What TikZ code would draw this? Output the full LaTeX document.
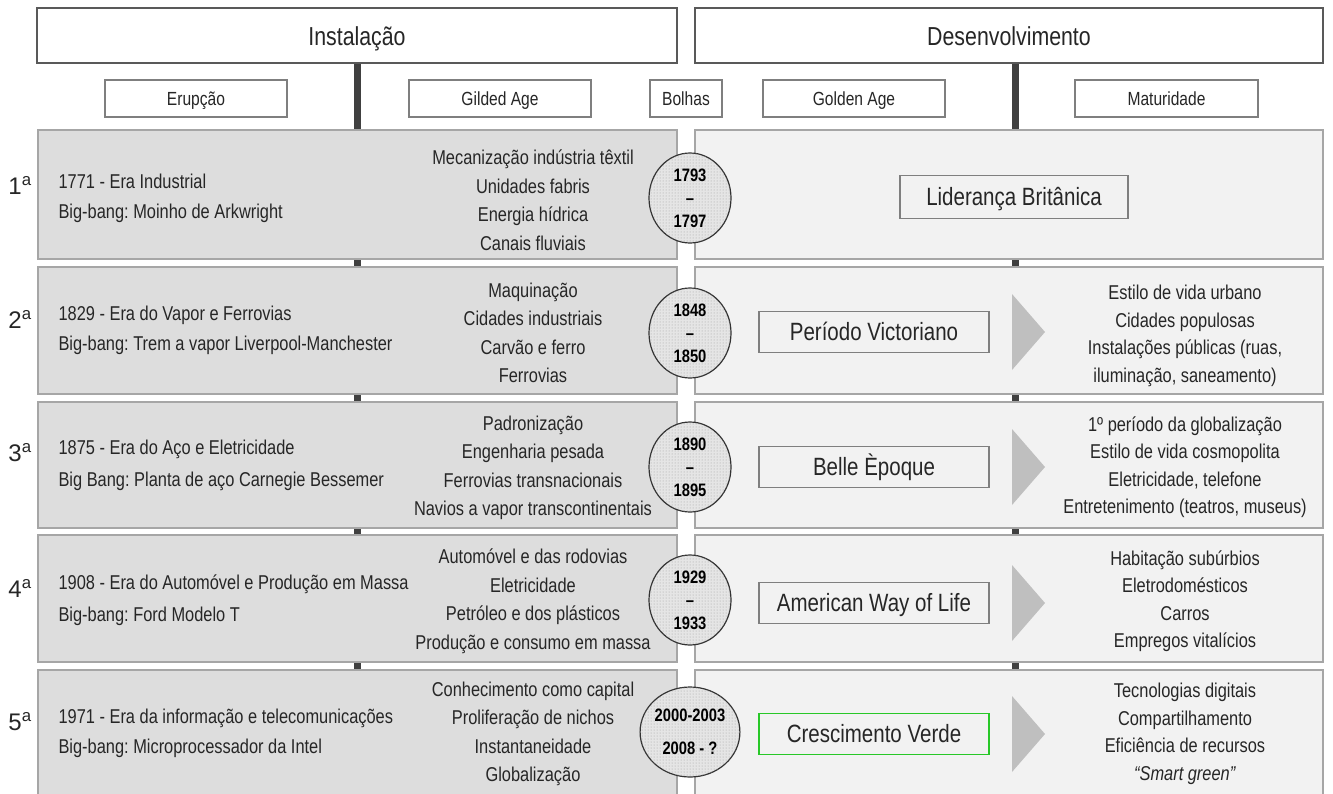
\documentclass[tikz,border=0pt]{standalone}
\usepackage{fontspec}
\setmainfont{Liberation Sans}[FakeStretch=0.82]
\newfontfamily\widefont{Liberation Sans}
\usetikzlibrary{patterns,shapes.geometric}
\definecolor{txt}{RGB}{38,38,38}
\definecolor{hdline}{RGB}{89,89,89}
\definecolor{subline}{RGB}{127,127,127}
\definecolor{panelline}{RGB}{166,166,166}
\definecolor{panelL}{RGB}{221,221,221}
\definecolor{panelR}{RGB}{242,242,242}
\definecolor{arrowgray}{RGB}{191,191,191}
\definecolor{barcol}{RGB}{64,64,64}
\definecolor{verde}{RGB}{40,200,40}

\begin{document}
\frenchspacing
\begin{tikzpicture}[x=1pt,y=-1pt,every node/.style={text=txt},
  hdbox/.style={draw=hdline,line width=1.5pt,fill=white,minimum height=55pt,text height=19.5pt,text depth=0pt,font=\fontsize{26}{26}\selectfont},
  subbox/.style={draw=subline,line width=1.2pt,fill=white,minimum height=37pt,text height=13.6pt,text depth=0pt,font=\fontsize{19}{19}\selectfont},
  lpanel/.style={draw=panelline,line width=1.5pt,fill=panelL},
  rpanel/.style={draw=panelline,line width=1.5pt,fill=panelR},
  rowlabel/.style={font=\widefont\fontsize{24}{24}\selectfont},
  lefttxt/.style={anchor=west,font=\fontsize{20}{20}\selectfont},
  midtxt/.style={align=center,font=\fontsize{20}{28.5}\selectfont},
  righttxt/.style={align=center,font=\fontsize{20}{27.5}\selectfont},
  bubble/.style={ellipse,draw=black!80,line width=1.2pt,fill=gray!20,minimum width=82pt,minimum height=90pt,inner sep=0pt,align=center,font=\bfseries\fontsize{18}{23}\selectfont,text=black,
    postaction={pattern=dots,pattern color=gray!75}},
  agebox/.style={draw=subline,line width=1.2pt,fill=panelR,minimum width=230pt,minimum height=41pt,text height=17.9pt,text depth=0pt,font=\fontsize{25}{25}\selectfont}]
\useasboundingbox[fill=white] (0,0) rectangle (1333,793);

% vertical bars (behind the panels)
\draw[barcol,line width=7pt] (357,63) -- (357,793);
\draw[barcol,line width=7pt] (1015,63) -- (1015,793);

% headers
\node[hdbox,minimum width=640pt] (inst) at (357,35.5) {Instalação};
\node[hdbox,minimum width=628pt] (desenv) at (1009,35.5) {Desenvolvimento};

\node[subbox,minimum width=182pt] (erup) at (196,98.5) {Erupção};
\node[subbox,minimum width=182pt] (gilded) at (500,98.5) {Gilded Age};
\node[subbox,minimum width=72pt] (bolhas) at (686,98.5) {Bolhas};
\node[subbox,minimum width=182pt] (golden) at (854,98.5) {Golden Age};
\node[subbox,minimum width=183pt] (matur) at (1166.5,98.5) {Maturidade};

% row panels
\foreach \t/\b in {130/259,267/394,402/528,535/662,670/800}{
  \draw[lpanel] (38,\t) rectangle (677,\b);
  \draw[rpanel] (695,\t) rectangle (1323,\b);
}

% row 1
\node[rowlabel] (n1) at (20,185) {1\textsuperscript{a}};
\node[lefttxt] (era1) at (55,181) {1771 - Era Industrial};
\node[lefttxt] (bang1) at (55,213) {Big-bang: Moinho de Arkwright};
\node[midtxt] (gild1) at (533,200) {Mecanização indústria têxtil\\Unidades fabris\\Energia hídrica\\Canais fluviais};
\node[bubble] (bol1) at (690,198) {1793\\–\\1797};
\node[agebox,minimum width=228pt,minimum height=43pt] (age1) at (1014,197) {Liderança Britânica};

% row 2
\node[rowlabel] (n2) at (20,319) {2\textsuperscript{a}};
\node[lefttxt] (era2) at (55,315) {1829 - Era do Vapor e Ferrovias};
\node[lefttxt] (bang2) at (55,345) {Big-bang: Trem a vapor Liverpool-Manchester};
\node[midtxt] (gild2) at (533,333) {Maquinação\\Cidades industriais\\Carvão e ferro\\Ferrovias};
\node[bubble] (bol2) at (690,333) {1848\\–\\1850};
\node[agebox] (age2) at (874,332) {Período Victoriano};
\fill[arrowgray] (1012,294) -- (1045,332) -- (1012,370) -- cycle;
\node[righttxt] (mat2) at (1185,336) {Estilo de vida urbano\\Cidades populosas\\Instalações públicas (ruas,\\iluminação, saneamento)};

% row 3
\node[rowlabel] (n3) at (20,453) {3\textsuperscript{a}};
\node[lefttxt] (era3) at (55,449) {1875 - Era do Aço e Eletricidade};
\node[lefttxt] (bang3) at (55,481) {Big Bang: Planta de aço Carnegie Bessemer};
\node[midtxt] (gild3) at (533,468) {Padronização\\Engenharia pesada\\Ferrovias transnacionais\\Navios a vapor transcontinentais};
\node[bubble] (bol3) at (690,467) {1890\\–\\1895};
\node[agebox] (age3) at (874,467) {Belle Èpoque};
\fill[arrowgray] (1012,429) -- (1045,467) -- (1012,505) -- cycle;
\node[righttxt] (mat3) at (1185,467) {1º período da globalização\\Estilo de vida cosmopolita\\Eletricidade, telefone\\Entretenimento (teatros, museus)};

% row 4
\node[rowlabel] (n4) at (20,588) {4\textsuperscript{a}};
\node[lefttxt] (era4) at (55,584) {1908 - Era do Automóvel e Produção em Massa};
\node[lefttxt] (bang4) at (55,616) {Big-bang: Ford Modelo T};
\node[midtxt] (gild4) at (533,601) {Automóvel e das rodovias\\Eletricidade\\Petróleo e dos plásticos\\Produção e consumo em massa};
\node[bubble] (bol4) at (690,600) {1929\\–\\1933};
\node[agebox] (age4) at (874,603) {American Way of Life};
\fill[arrowgray] (1012,565) -- (1045,603) -- (1012,641) -- cycle;
\node[righttxt] (mat4) at (1185,601) {Habitação subúrbios\\Eletrodomésticos\\Carros\\Empregos vitalícios};

% row 5
\node[rowlabel] (n5) at (20,722) {5\textsuperscript{a}};
\node[lefttxt] (era5) at (55,718) {1971 - Era da informação e telecomunicações};
\node[lefttxt] (bang5) at (55,748) {Big-bang: Microprocessador da Intel};
\node[midtxt] (gild5) at (533,734) {Conhecimento como capital\\Proliferação de nichos\\Instantaneidade\\Globalização};
\node[bubble,font=\bfseries\fontsize{18}{33}\selectfont] (bol5) at (690,732) {2000-2003\\2008 - ?};
\node[agebox,draw=verde] (age5) at (874,734) {Crescimento Verde};
\fill[arrowgray] (1012,696) -- (1045,734) -- (1012,772) -- cycle;
\node[righttxt] (mat5) at (1185,734) {Tecnologias digitais\\Compartilhamento\\Eficiência de recursos\\\textit{“Smart green”}};
\end{tikzpicture}
\end{document}
